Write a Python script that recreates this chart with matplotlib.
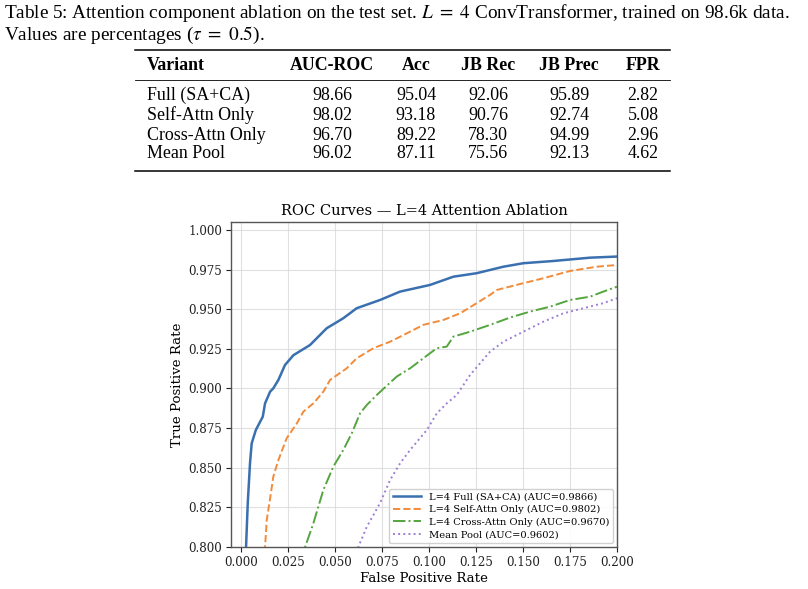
import matplotlib
matplotlib.use('Agg')
import matplotlib.pyplot as plt
from matplotlib.lines import Line2D
from matplotlib.ticker import FormatStrFormatter

plt.rcParams['mathtext.fontset'] = 'stix'

# table data
columns = ['Variant', 'AUC-ROC', 'Acc', 'JB Rec', 'JB Prec', 'FPR']
variants = ['Full (SA+CA)', 'Self-Attn Only', 'Cross-Attn Only', 'Mean Pool']
auc_roc = ['98.66', '98.02', '96.70', '96.02']
acc = ['95.04', '93.18', '89.22', '87.11']
jb_rec = ['92.06', '90.76', '78.30', '75.56']
jb_prec = ['95.89', '92.74', '94.99', '92.13']
fpr_pct = ['2.82', '5.08', '2.96', '4.62']

# ROC curves
full_fpr = [0.0026, 0.0028, 0.0037, 0.0049, 0.0058, 0.008, 0.0117, 0.0129, 0.0156, 0.0173, 0.020,
            0.0235, 0.028, 0.0368, 0.0457, 0.0545, 0.0616, 0.074, 0.0847, 0.1006, 0.113,
            0.1254, 0.1396, 0.1502, 0.1661, 0.1857, 0.200]
full_tpr = [0.790, 0.800, 0.8276, 0.8528, 0.8654, 0.8738, 0.8822, 0.8906, 0.898, 0.9001, 0.9054,
            0.9148, 0.921, 0.9274, 0.938, 0.9443, 0.9506, 0.9558, 0.9611, 0.9653, 0.9705,
            0.9727, 0.9768, 0.979, 0.9804, 0.9825, 0.9832]
self_fpr = [0.0127, 0.0129, 0.0138, 0.0156, 0.0173, 0.020, 0.0244, 0.0298, 0.0333, 0.0386, 0.0439,
            0.0475, 0.0563, 0.0616, 0.0705, 0.0794, 0.090, 0.097, 0.1077, 0.1166, 0.1254,
            0.1325, 0.136, 0.1502, 0.1608, 0.175, 0.1892, 0.200]
self_tpr = [0.790, 0.800, 0.817, 0.8307, 0.8444, 0.8549, 0.8686, 0.878, 0.8854, 0.8906, 0.898,
            0.9054, 0.9127, 0.919, 0.9254, 0.9295, 0.9358, 0.9401, 0.9432, 0.9474, 0.9538,
            0.959, 0.9621, 0.9664, 0.9695, 0.9741, 0.9768, 0.9779]
cross_fpr = [0.0325, 0.0342, 0.0386, 0.0439, 0.0492, 0.0545, 0.059, 0.0634, 0.067, 0.0723, 0.0829,
             0.090, 0.097, 0.1042, 0.1095, 0.113, 0.1219, 0.1325, 0.1431, 0.1538, 0.1644,
             0.175, 0.1857, 0.1927, 0.200]
cross_tpr = [0.790, 0.800, 0.815, 0.836, 0.8507, 0.8612, 0.8717, 0.8843, 0.8896, 0.8959, 0.9075,
             0.9127, 0.919, 0.9254, 0.9264, 0.9327, 0.9358, 0.9401, 0.9447, 0.9485, 0.9516,
             0.9558, 0.9579, 0.9611, 0.9642]
mean_fpr = [0.060, 0.0625, 0.067, 0.074, 0.0794, 0.0847, 0.090, 0.0989, 0.1042, 0.1095, 0.1148,
            0.1219, 0.1325, 0.1396, 0.1502, 0.1608, 0.1715, 0.1821, 0.1927, 0.200]
mean_tpr = [0.790, 0.800, 0.8128, 0.8276, 0.8423, 0.8528, 0.8612, 0.8738, 0.8843, 0.8906, 0.8959,
            0.9085, 0.9232, 0.9295, 0.9358, 0.9421, 0.9474, 0.9506, 0.9538, 0.9569]

W, H = 808, 589
fig = plt.figure(figsize=(W / 100, H / 100), dpi=100)


def fx(px):
    return px / W


def fy(py):
    return 1 - py / H


serif = ['Liberation Serif', 'DejaVu Serif']

# caption
fig.text(fx(4), fy(13), r'Table 5: Attention component ablation on the test set. $L\ =\ 4$ ConvTransformer, trained on 98.6k data.',
         family=serif, fontsize=13.9, va='center', ha='left')
fig.text(fx(4), fy(35), r'Values are percentages ($\tau\ =\ 0.5$).',
         family=serif, fontsize=13.9, va='center', ha='left')

# table
col_x = [147, 332, 416, 488, 569, 643]
for i, c in enumerate(columns):
    fig.text(fx(col_x[i]), fy(65), c, family=serif, fontsize=12.9, fontweight='bold',
             va='center', ha='left' if i == 0 else 'center')
row_y = [95, 115, 135, 154]
cols = [auc_roc, acc, jb_rec, jb_prec, fpr_pct]
for r, name in enumerate(variants):
    fig.text(fx(col_x[0]), fy(row_y[r]), name, family=serif, fontsize=12.9, va='center', ha='left')
    for j, vals in enumerate(cols):
        fig.text(fx(col_x[j + 1]), fy(row_y[r]), vals[r], family=serif, fontsize=12.9,
                 va='center', ha='center')

for y, lw in [(50, 1.1), (80, 0.6), (171, 1.1)]:
    fig.add_artist(Line2D([fx(135), fx(670)], [fy(y), fy(y)], color='black', lw=lw))

# ROC plot
ax = fig.add_axes([fx(231), fy(547), fx(617) - fx(231), fy(222) - fy(547)])
ax.plot(full_fpr, full_tpr, color='#3a70b0', lw=1.8, ls='-', label='L=4 Full (SA+CA) (AUC=0.9866)')
ax.plot(self_fpr, self_tpr, color='#f28b3a', lw=1.4, ls='--', label='L=4 Self-Attn Only (AUC=0.9802)')
ax.plot(cross_fpr, cross_tpr, color='#55a53f', lw=1.4, ls='-.', label='L=4 Cross-Attn Only (AUC=0.9670)')
ax.plot(mean_fpr, mean_tpr, color='#9d7fd6', lw=1.4, ls=':', label='Mean Pool (AUC=0.9602)')

ax.set_xlim(-0.0052, 0.2)
ax.set_ylim(0.8, 1.005)
ax.set_xticks([0.0, 0.025, 0.05, 0.075, 0.1, 0.125, 0.15, 0.175, 0.2])
ax.set_yticks([0.8, 0.825, 0.85, 0.875, 0.9, 0.925, 0.95, 0.975, 1.0])
ax.xaxis.set_major_formatter(FormatStrFormatter('%.3f'))
ax.yaxis.set_major_formatter(FormatStrFormatter('%.3f'))
ax.tick_params(labelsize=8.6, length=3.5, width=0.8, colors='#222222', pad=3)
for lab in ax.get_xticklabels() + ax.get_yticklabels():
    lab.set_family('DejaVu Serif')
ax.grid(True, color='#d9d9d9', lw=0.8, alpha=0.8)
ax.set_axisbelow(True)
for s in ax.spines.values():
    s.set_color('#555555')
    s.set_linewidth(1.0)

ax.set_xlabel('False Positive Rate', family='DejaVu Serif', fontsize=9.6, labelpad=2)
ax.set_ylabel('True Positive Rate', family='DejaVu Serif', fontsize=9.6, labelpad=3)
ax.set_title('ROC Curves — L=4 Attention Ablation', family='DejaVu Serif', fontsize=10.5, pad=5)

leg = ax.legend(loc='lower right', prop={'family': 'DejaVu Serif', 'size': 7.1},
                framealpha=0.9, edgecolor='#cccccc', fancybox=True, handlelength=2.8,
                labelspacing=0.35, borderpad=0.4, borderaxespad=0.4)

fig.savefig('out.png', dpi=100)
